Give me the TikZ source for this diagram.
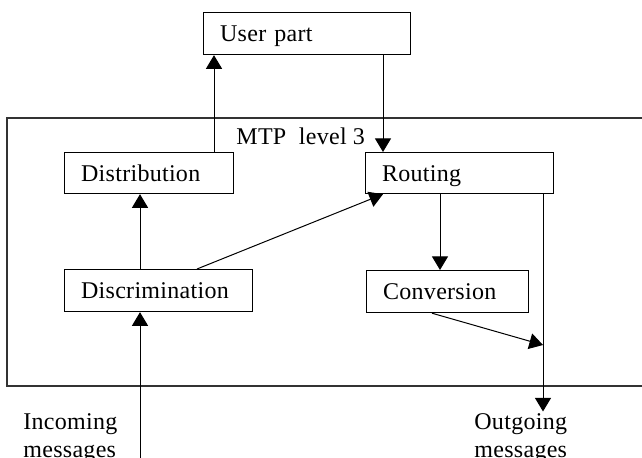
\documentclass[tikz,border=0pt]{standalone}
\usepackage{fontspec}
\setmainfont{Liberation Serif}[LetterSpace=1.2]
\usetikzlibrary{arrows.meta}

\tikzset{
  blk/.style={draw, line width=0.6pt, anchor=north west, align=left,
    inner xsep=8.25pt, inner ysep=0pt, text height=8.2pt, text depth=0pt},
  arr/.style={line width=0.5pt, -{Triangle[length=6.8pt,width=8pt]}},
  frame/.style={line width=0.7pt, draw=black!80},
  lbl/.style={anchor=base west, align=left, inner sep=0pt}
}

\begin{document}
\begin{tikzpicture}[x=0.5pt, y=-0.5pt, font=\fontsize{12pt}{13.8pt}\selectfont]
  \useasboundingbox (0,0) rectangle (642,458);

  % MTP level 3 frame (open to the right edge)
  \draw[frame] (642,118) -- (7,118) -- (7,386) -- (642,386);
  \node[lbl] (mtp) at (236,145) {MTP\ \ level 3};

  % functional blocks
  \node[blk, text width=87pt,   minimum height=21pt]   (user) at (203,12)  {User part};
  \node[blk, text width=68pt,   minimum height=20.5pt] (dist) at (64,152)  {Distribution};
  \node[blk, text width=77.5pt, minimum height=20.5pt] (rout) at (365,152) {Routing};
  \node[blk, text width=77.5pt, minimum height=21pt]   (disc) at (64,269)  {Discrimination};
  \node[blk, text width=64.5pt, minimum height=21pt]   (conv) at (366,270) {Conversion};

  % outside labels (base anchor sits on the last line)
  \node[lbl] (inlab)  at (23,457.6)  {Incoming\\messages};
  \node[lbl] (outlab) at (474,457.6) {Outgoing\\messages};

  % vertical tracks of the connectors
  \coordinate (xa) at (214,0);
  \coordinate (xb) at (383,0);
  \coordinate (xc) at (140,0);
  \coordinate (xd) at (440,0);
  \coordinate (xe) at (543,0);
  \coordinate (xf) at (197,0);
  \coordinate (xg) at (432,0);

  \coordinate (inend)  at (140,458);
  \coordinate (join)   at (543,345);
  \coordinate (outend) at (543,411.5);

  % connectors
  \draw[arr] (xa |- dist.north) -- (xa |- user.south);
  \draw[arr] (xb |- user.south) -- (xb |- rout.north);
  \draw[arr] (xc |- disc.north) -- (xc |- dist.south);
  \draw[arr] (xf |- disc.north) -- (xb |- rout.south);
  \draw[arr] (xd |- rout.south) -- (xd |- conv.north);
  \draw[arr] (xe |- rout.south) -- (outend);
  \draw[arr] (xg |- conv.south) -- (join);
  \draw[arr] (inend) -- (xc |- disc.south);
\end{tikzpicture}
\end{document}
